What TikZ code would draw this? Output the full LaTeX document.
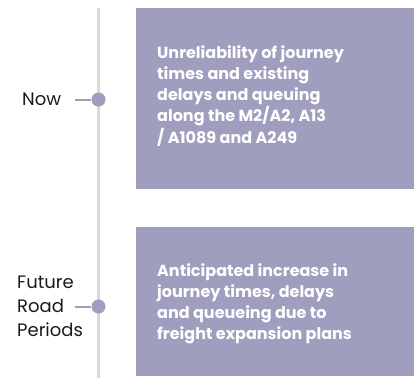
\documentclass[tikz,border=0pt]{standalone}
\usepackage{fontspec}
\setmainfont{Poppins}
\definecolor{boxc}{HTML}{A09EBE}
\definecolor{linec}{HTML}{D9D9D9}
\definecolor{txtc}{HTML}{1A1A1A}
\begin{document}
\begin{tikzpicture}[x=1pt,y=-1pt,
  panel/.style={fill=boxc,draw=none},
  paneltext/.style={anchor=north west,inner sep=0pt,align=left,text=white,
    font=\fontsize{16}{21.3}\selectfont\bfseries},
  lbl/.style={inner sep=0pt,align=left,text=txtc,font=\fontsize{18}{24}\selectfont},
  dot/.style={circle,fill=boxc,draw=none,minimum size=14pt,inner sep=0pt},
  tick/.style={draw=boxc,line width=2pt}]
\useasboundingbox (0,0) rectangle (420,378);
\coordinate (top) at (98.5,8);
\coordinate (bot) at (98.5,378);
\draw[linec,line width=2.2pt] (top) -- (bot);
\fill[panel] (136,8) rectangle (414,189);
\fill[panel] (136,227) rectangle (414,376);
\node[paneltext] (t1) at (157,45) {Unreliability of journey\\times and existing\\delays and queuing\\along the M2/A2, A13\\/ A1089 and A249};
\node[paneltext] (t2) at (157,263) {Anticipated increase in\\journey times, delays\\and queueing due to\\freight expansion plans};
\node[dot] (d1) at (98.5,99.5) {};
\node[dot] (d2) at (98.5,306.5) {};
\coordinate (s1) at (75,99.5);
\coordinate (s2) at (75,306.5);
\draw[tick] (s1) -- (d1);
\draw[tick] (s2) -- (d2);
\node[lbl,anchor=west] (now) at (22,99.5) {Now};
\node[lbl,anchor=west] (fut) at (17,306.5) {Future\\Road\\Periods};
\end{tikzpicture}
\end{document}
